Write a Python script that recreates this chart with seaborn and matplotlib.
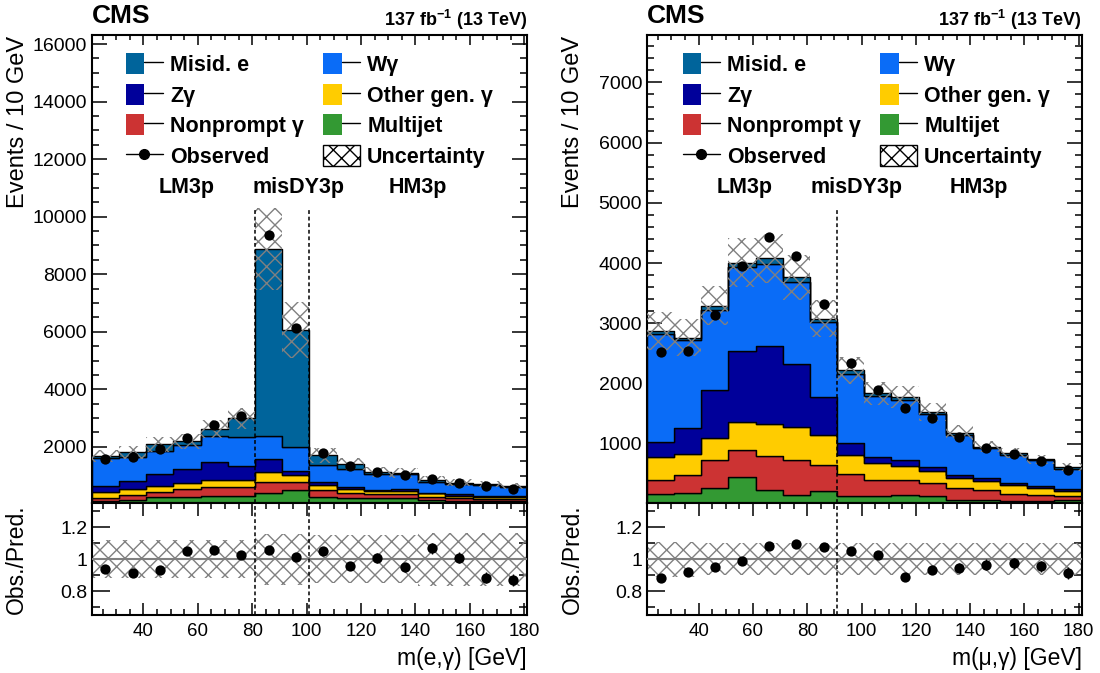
import numpy as np
import pandas as pd
import matplotlib
matplotlib.use("Agg")
import matplotlib.pyplot as plt
import matplotlib.transforms as mtransforms
import seaborn as sns
from matplotlib.patches import Patch
from matplotlib.lines import Line2D
from matplotlib.legend_handler import HandlerTuple
from matplotlib.ticker import MultipleLocator, FuncFormatter

sns.set_theme(style="white")
plt.rcParams["font.family"] = ["Liberation Sans", "DejaVu Sans"]
plt.rcParams["mathtext.default"] = "regular"
plt.rcParams["hatch.linewidth"] = 1.0

# ---- binning: 10 GeV bins from 21 to 181 GeV ----
bin_edges = np.arange(21, 182, 10)
bin_centers = bin_edges[:-1] + 5

processes = ["Misid. e", "Wγ", "Zγ", "Other gen. γ", "Nonprompt γ", "Multijet"]
colors = ["#00649b", "#0a6cf7", "#00009a", "#ffcc00", "#cc3333", "#339933"]

# ---- electron channel: predicted events per bin ----
e_misid = [93, 151, 220, 139, 221, 637, 6504, 4078, 336, 160, 69, 44, 67, 30, 35, 27]
e_wg = [963, 836, 824, 823, 927, 1021, 788, 812, 581, 640, 546, 523, 371, 372, 371, 301]
e_zg = [213, 301, 394, 511, 615, 475, 476, 151, 98, 70, 35, 58, 23, 46, 36, 57]
e_other = [210, 197, 209, 208, 232, 244, 325, 255, 180, 152, 127, 116, 118, 93, 92, 71]
e_nonprompt = [110, 174, 174, 256, 313, 313, 406, 267, 245, 163, 117, 139, 116, 94, 70, 70]
e_multijet = [100, 146, 261, 261, 296, 296, 377, 493, 260, 215, 226, 204, 145, 110, 99, 99]
e_observed = [1586, 1652, 1940, 2312, 2752, 3058, 9364, 6147, 1785, 1338, 1130, 1028, 897, 753, 621, 542]
e_rel_unc = [0.12, 0.12, 0.12, 0.12, 0.12, 0.12, 0.16, 0.16,
             0.15, 0.15, 0.15, 0.15, 0.165, 0.165, 0.165, 0.165]

# ---- muon channel: predicted events per bin ----
mu_misid = [39, 44, 72, 72, 88, 72, 55, 66, 44, 55, 33, 38, 27, 27, 22, 33]
mu_wg = [1800, 1458, 1332, 1403, 1376, 1370, 1239, 1145, 1013, 1002, 886, 666, 495, 468, 429, 330]
mu_zg = [242, 424, 798, 1173, 1288, 1035, 632, 193, 99, 88, 66, 49, 56, 28, 28, 39]
mu_other = [391, 358, 358, 462, 539, 561, 496, 319, 275, 231, 193, 166, 137, 148, 121, 82]
mu_nonprompt = [220, 292, 468, 457, 550, 567, 441, 369, 264, 253, 209, 192, 165, 127, 99, 66]
mu_multijet = [174, 185, 267, 443, 240, 157, 212, 130, 141, 152, 141, 75, 75, 47, 47, 64]
mu_observed = [2522, 2543, 3137, 3958, 4428, 4116, 3315, 2338, 1887, 1587, 1424, 1121, 923, 824, 712, 561]
mu_rel_unc = [0.11, 0.11, 0.1, 0.1, 0.1, 0.1, 0.1, 0.1,
              0.1, 0.1, 0.1, 0.1, 0.1, 0.1, 0.1, 0.1]

region_labels = ["LM3p", "misDY3p", "HM3p"]
e_region_x = [56, 97, 141]
mu_region_x = [57, 98, 143]

FS_YTICK = 14
FS_XTICK = 13.5
HATCH_COLOR = "#808080"

fig = plt.figure(figsize=(11, 6.73), dpi=100)


def style_spines(ax):
    for s in ax.spines.values():
        s.set_color("black")
        s.set_linewidth(1.5)
    ax.grid(False)


def draw_channel(rect_main, rect_ratio, comps, observed, rel_unc, ymin, ymax,
                 y_major, y_minor, boundaries, region_x, xlabel, legend_x):
    ax = fig.add_axes(rect_main)
    axr = fig.add_axes(rect_ratio, sharex=ax)

    df = pd.DataFrame({
        "mass": np.tile(bin_centers, len(processes)),
        "process": np.repeat(processes, len(bin_centers)),
        "events": np.concatenate([np.asarray(c, float) for c in comps]),
    })
    sns.histplot(data=df, x="mass", weights="events", hue="process",
                 hue_order=processes, palette=colors, multiple="stack",
                 bins=[float(b) for b in bin_edges], element="step",
                 fill=True, alpha=1, edgecolor="black", linewidth=1.0,
                 legend=False, ax=ax)

    total = np.sum([np.asarray(c, float) for c in comps], axis=0)
    obs = np.asarray(observed, float)
    unc = np.asarray(rel_unc, float)

    # prediction uncertainty
    ax.stairs(total * (1 + unc), bin_edges, baseline=total * (1 - unc),
              fill=True, hatch="xx", facecolor="none",
              edgecolor=HATCH_COLOR, linewidth=0, zorder=4)

    # observed data
    ax.errorbar(bin_centers, obs, yerr=np.sqrt(obs), fmt="none",
                ecolor="black", elinewidth=1, zorder=5)
    sns.scatterplot(x=bin_centers, y=obs, color="black", s=55,
                    edgecolor="black", linewidth=0, zorder=6, ax=ax)

    ax.set_xlim(bin_edges[0], bin_edges[-1])
    ax.set_ylim(ymin, ymax)
    ax.yaxis.set_major_locator(MultipleLocator(y_major))
    ax.yaxis.set_minor_locator(MultipleLocator(y_minor))
    ax.xaxis.set_major_locator(MultipleLocator(20))
    ax.xaxis.set_minor_locator(MultipleLocator(5))
    style_spines(ax)
    ax.tick_params(which="both", direction="in", top=True, right=True,
                   bottom=True, left=True, colors="black", width=1.1)
    ax.tick_params(axis="y", which="major", length=11, labelsize=FS_YTICK, pad=3.6)
    ax.tick_params(axis="y", which="minor", length=5)
    ax.tick_params(axis="x", which="major", length=7, labelbottom=False)
    ax.tick_params(axis="x", which="minor", length=3.6)
    ax.set_xlabel("")
    ax.set_ylabel("Events / 10 GeV", fontsize=17, loc="top", color="black")
    ax.yaxis.set_label_coords(-0.145, 1.0)

    for b in boundaries:
        ax.axvline(b, ymin=0, ymax=0.627, color="black", lw=1.1,
                   ls=(0, (2.5, 1.8)), zorder=7)
        axr.axvline(b, color="black", lw=1.1, ls=(0, (2.5, 1.8)), zorder=7)

    trans = mtransforms.blended_transform_factory(ax.transData, ax.transAxes)
    for lab, xl in zip(region_labels, region_x):
        ax.text(xl, 0.675, lab, transform=trans, ha="center", va="center",
                fontsize=15.5, fontweight="bold", color="black")

    ax.text(0.0, 1.026, "CMS", transform=ax.transAxes, ha="left",
            va="baseline", fontsize=19, fontweight="bold", color="black")
    ax.text(1.0, 1.02, "137 fb$^{-1}$ (13 TeV)", transform=ax.transAxes,
            ha="right", va="baseline", fontsize=13, fontweight="bold",
            color="black")

    # legend
    handles = [(Patch(facecolor=c, edgecolor="none"),
                Line2D([], [], color="black", lw=1)) for c in colors]
    h_obs = Line2D([], [], color="black", lw=1, marker="o", markersize=7)
    h_unc = Patch(facecolor="white", edgecolor="black", hatch="xx", lw=1)
    labels = processes + ["Observed", "Uncertainty"]
    order = [0, 2, 4, 6, 1, 3, 5, 7]
    all_h = handles + [h_obs, h_unc]
    leg = ax.legend([all_h[i] for i in order], [labels[i] for i in order],
                    ncol=2, loc="upper left", bbox_to_anchor=(legend_x, 0.962),
                    frameon=False,
                    handler_map={tuple: HandlerTuple(ndivide=None, pad=0)},
                    prop={"weight": "bold", "size": 15.5},
                    handlelength=1.7, handleheight=1.12, handletextpad=0.34,
                    labelspacing=0.36, columnspacing=0.9, borderpad=0,
                    borderaxespad=0)
    for t in leg.get_texts():
        t.set_color("black")

    # ratio panel
    ratio = obs / total
    ratio_err = np.sqrt(obs) / total
    axr.stairs(1 + unc, bin_edges, baseline=1 - unc, fill=True, hatch="xx",
               facecolor="none", edgecolor=HATCH_COLOR, linewidth=0, zorder=2)
    axr.axhline(1.0, color="#808080", lw=1.5, zorder=3)
    axr.errorbar(bin_centers, ratio, yerr=ratio_err, fmt="none",
                 ecolor="black", elinewidth=1, zorder=5)
    sns.scatterplot(x=bin_centers, y=ratio, color="black", s=55,
                    edgecolor="black", linewidth=0, zorder=6, ax=axr)
    axr.set_ylim(0.65, 1.35)
    axr.set_xlim(bin_edges[0], bin_edges[-1])
    axr.yaxis.set_major_locator(MultipleLocator(0.2))
    axr.yaxis.set_minor_locator(MultipleLocator(0.1))
    axr.yaxis.set_major_formatter(FuncFormatter(lambda v, p: f"{v:g}"))
    axr.xaxis.set_major_locator(MultipleLocator(20))
    axr.xaxis.set_minor_locator(MultipleLocator(5))
    style_spines(axr)
    axr.tick_params(which="both", direction="in", top=True, right=True,
                    bottom=True, left=True, colors="black", width=1.1)
    axr.tick_params(axis="y", which="major", length=13, labelsize=FS_YTICK, pad=3.2)
    axr.tick_params(axis="y", which="minor", length=6)
    axr.tick_params(axis="x", which="major", length=9, labelsize=FS_XTICK, pad=6)
    axr.tick_params(axis="x", which="minor", length=4)
    axr.set_ylabel("Obs./Pred.", fontsize=16.5, color="black")
    axr.yaxis.set_label_coords(-0.146, 0.5)
    axr.set_xlabel(xlabel, fontsize=16.5, loc="right", color="black", labelpad=5)
    return ax, axr


draw_channel([0.0834, 0.2519, 0.3957, 0.6954], [0.0834, 0.0862, 0.3957, 0.1657],
             [e_misid, e_wg, e_zg, e_other, e_nonprompt, e_multijet],
             e_observed, e_rel_unc, 30, 16300, 2000, 500, [81, 101],
             e_region_x, "m(e,γ) [GeV]", 0.079)
draw_channel([0.5882, 0.2519, 0.3950, 0.6954], [0.5882, 0.0862, 0.3950, 0.1657],
             [mu_misid, mu_wg, mu_zg, mu_other, mu_nonprompt, mu_multijet],
             mu_observed, mu_rel_unc, 10, 7780, 1000, 200, [91],
             mu_region_x, "m(μ,γ) [GeV]", 0.083)

fig.savefig("out.png", dpi=100, facecolor="white")
